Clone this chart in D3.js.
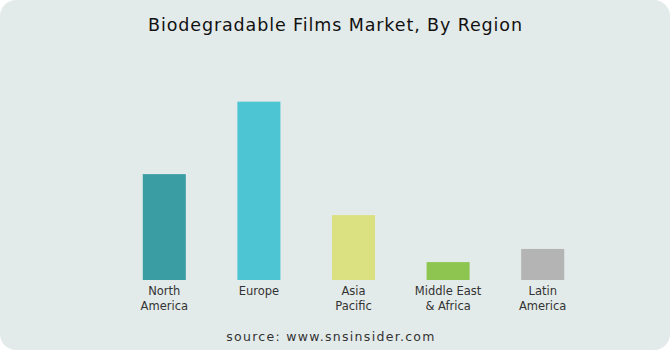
<!DOCTYPE html>
<html>
<head>
<meta charset="utf-8">
<script src="https://cdn.jsdelivr.net/npm/d3@7"></script>
<style>
  html, body { margin: 0; padding: 0; background: #fff; }
  svg text { font-family: "Century Gothic", "DejaVu Sans", sans-serif; }
</style>
</head>
<body>
<div id="chart"></div>
<script>
var regions = ["North America", "Europe", "Asia Pacific", "Middle East & Africa", "Latin America"];
var labelLines = [["North", "America"], ["Europe"], ["Asia", "Pacific"], ["Middle East", "& Africa"], ["Latin", "America"]];
var shares = [26.6, 44.8, 16.3, 4.5, 7.8];
var colors = ["#3a9da4", "#4dc5d2", "#dbe081", "#8dc550", "#b3b4b3"];

var width = 670, height = 350;

var svg = d3.select("#chart").append("svg")
    .attr("width", width)
    .attr("height", height);

svg.append("rect")
    .attr("width", width)
    .attr("height", height)
    .attr("rx", 16)
    .attr("fill", "#e3ebea");

svg.append("text")
    .attr("x", width / 2)
    .attr("y", 30.5)
    .attr("text-anchor", "middle")
    .attr("textLength", 374)
    .attr("lengthAdjust", "spacing")
    .style("font-size", "17.5px")
    .style("fill", "#111")
    .text("Biodegradable Films Market, By Region");

var x = d3.scaleBand()
    .domain(regions)
    .range([117, 590])
    .paddingInner(0.545)
    .paddingOuter(0.2725);

var y = d3.scaleLinear()
    .domain([0, 50])
    .range([280, 81]);

svg.selectAll("rect.bar")
    .data(regions)
    .enter().append("rect")
    .attr("class", "bar")
    .attr("x", d => x(d))
    .attr("y", (d, i) => y(shares[i]))
    .attr("width", x.bandwidth())
    .attr("height", (d, i) => y(0) - y(shares[i]))
    .attr("fill", (d, i) => colors[i]);

var labels = svg.selectAll("text.label")
    .data(regions)
    .enter().append("text")
    .attr("class", "label")
    .attr("text-anchor", "middle")
    .style("font-size", "11.5px")
    .style("fill", "#333");

labels.each(function (d, i) {
    d3.select(this).selectAll("tspan")
        .data(labelLines[i])
        .enter().append("tspan")
        .attr("x", x(d) + x.bandwidth() / 2)
        .attr("y", (t, j) => 295 + j * 14.5)
        .text(t => t);
});

svg.append("text")
    .attr("x", 331)
    .attr("y", 341)
    .attr("text-anchor", "middle")
    .style("font-size", "12.5px")
    .style("letter-spacing", "1.3px")
    .style("fill", "#333")
    .text("source: www.snsinsider.com");
</script>
</body>
</html>
